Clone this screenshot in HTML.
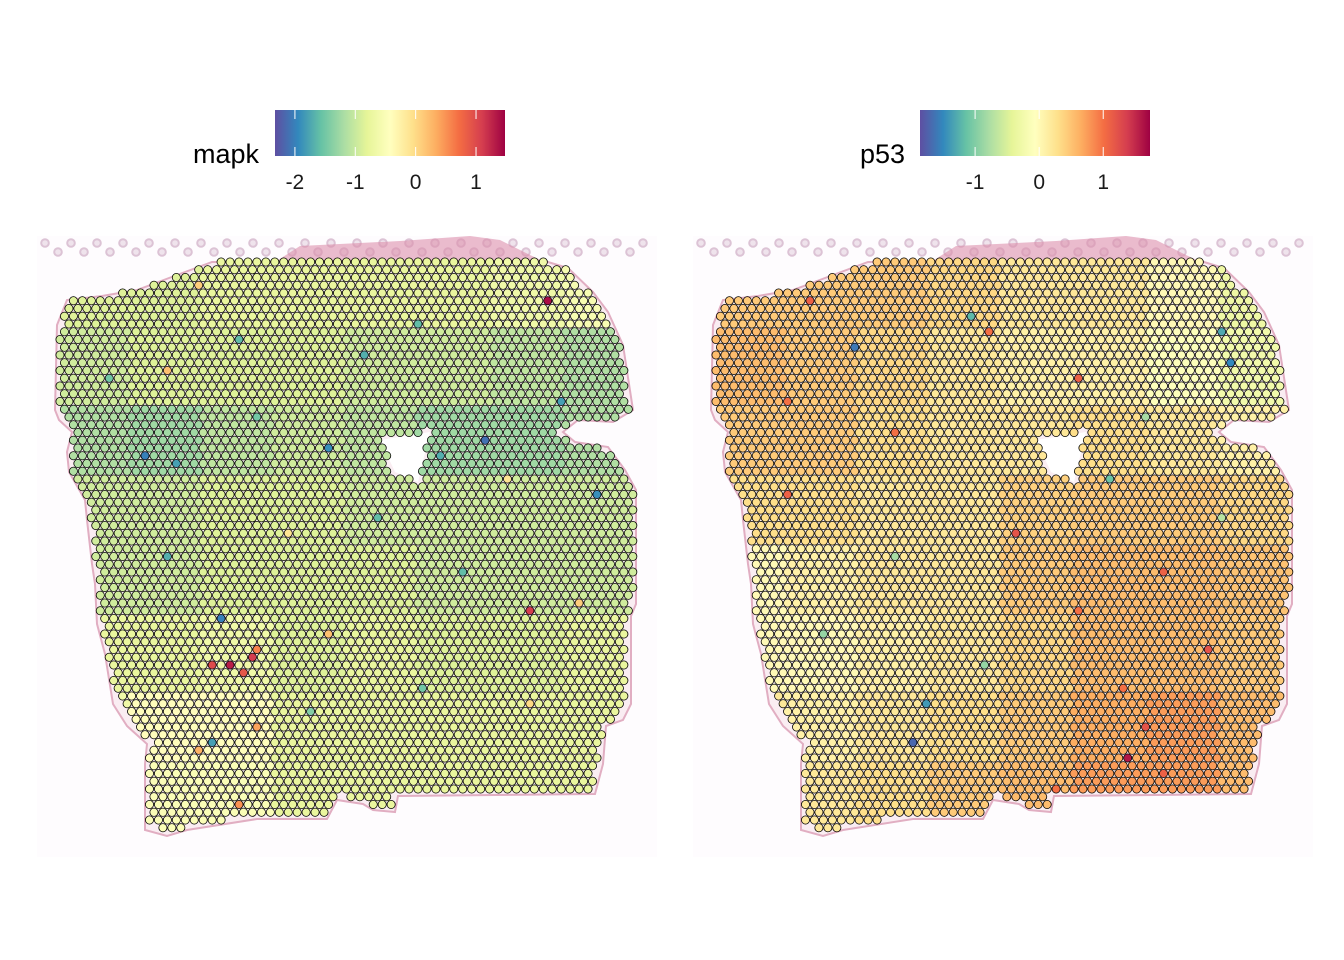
<!DOCTYPE html>
<html><head><meta charset="utf-8"><title>mapk / p53 spatial</title>
<style>
html,body{margin:0;padding:0;background:#fff;}
svg{display:block;font-family:"Liberation Sans",Arial,sans-serif;}
</style></head>
<body>
<svg id="chart" width="1344" height="960" viewBox="0 0 1344 960">
<defs>
<linearGradient id="spec" x1="0" x2="1" y1="0" y2="0">
<stop offset="0" stop-color="#5E4FA2"/><stop offset="0.1" stop-color="#3288BD"/><stop offset="0.2" stop-color="#66C2A5"/><stop offset="0.3" stop-color="#ABDDA4"/><stop offset="0.4" stop-color="#E6F598"/><stop offset="0.5" stop-color="#FFFFBF"/><stop offset="0.6" stop-color="#FEE08B"/><stop offset="0.7" stop-color="#FDAE61"/><stop offset="0.8" stop-color="#F46D43"/><stop offset="0.9" stop-color="#D53E4F"/><stop offset="1" stop-color="#9E0142"/>
</linearGradient>
</defs>
<g id="panels"></g>
</svg>
<script>
// ---- data ----
const panelNames = ["mapk", "p53"];
const domainMapk = [-2.33, 1.48];
const domainP53 = [-1.86, 1.73];
const ticksMapk = [-2, -1, 0, 1];
const ticksP53 = [-1, 0, 1];
// coarse 8x8 region means (rows top->bottom)
const gridMapk = [
 [-0.85,-0.85,-0.75,-0.75,-0.75,-0.75,-0.65,-0.55],
 [-0.95,-0.85,-0.85,-0.85,-0.95,-0.95,-1.05,-1.15],
 [-1.15,-1.25,-1.05,-0.95,-1.05,-1.25,-1.25,-1.15],
 [-0.95,-0.95,-0.85,-0.85,-0.95,-0.95,-0.95,-0.95],
 [-0.95,-0.95,-0.85,-0.85,-0.85,-0.95,-0.95,-0.95],
 [-0.75,-0.75,-0.65,-0.85,-0.75,-0.85,-0.85,-0.75],
 [-0.65,-0.4,-0.4,-0.75,-0.75,-0.75,-0.75,-0.75],
 [-0.65,-0.5,-0.5,-0.75,-0.75,-0.75,-0.75,-0.75]
];
const gridP53 = [
 [0.45,0.45,0.45,0.35,0.2,0.2,0.0,-0.3],
 [0.55,0.45,0.35,0.2,0.1,0.1,-0.1,-0.25],
 [0.45,0.45,0.3,0.2,0.2,0.3,0.2,0.1],
 [0.3,0.3,0.2,0.2,0.4,0.45,0.45,0.35],
 [0.0,0.1,0.2,0.2,0.45,0.55,0.55,0.5],
 [0.0,0.0,0.1,0.2,0.35,0.55,0.55,0.45],
 [0.2,0.1,0.2,0.3,0.45,0.65,0.75,0.55],
 [0.2,0.2,0.3,0.45,0.55,0.75,0.75,0.55]
];
// notable individual spots [row, col, value]
const outMapk = [[52,19,1.3],[51,21,1.1],[52,17,1.0],[53,20,0.9],[50,22,0.6],[5,54,1.4],[25,9,-2.0],[26,13,-1.8],[24,30,-1.9],[23,47,-2.1],[25,42,-1.7],[46,18,-2.0],[62,17,-1.8],[45,52,1.1],[30,60,-1.9],[12,34,-1.7],
 [10,20,-1.6],[15,5,-1.5],[8,40,-1.6],[18,56,-1.8],[20,22,-1.5],[33,35,-1.6],[38,12,-1.7],[40,45,-1.6],[55,40,-1.5],[58,28,-1.4],[35,25,-0.1],[28,50,-0.1],[48,30,0.2],[60,22,0.4],[63,15,0.3],[70,20,0.5],[14,12,0.2],[3,15,0.1],[44,58,0.1],[57,52,0.0]];
const outP53 = [[11,15,-1.6],[13,57,-1.5],[9,56,-1.3],[60,6,-1.8],[57,23,-1.4],[62,22,-1.7],[64,46,1.6],[60,48,1.2],[7,28,-1.2],[28,44,-1.1],[40,50,1.1],
 [5,10,1.1],[9,30,1.0],[15,40,1.1],[22,20,1.0],[30,8,1.1],[35,33,1.2],[45,40,1.0],[50,55,1.2],[55,45,1.0],[66,50,1.1],[68,38,1.0],[20,48,-0.8],[38,20,-0.8],[48,12,-0.9],[52,30,-0.9],[33,56,-0.7],[18,8,1.0]];

// ---- geometry ----
const tissue = [[60,325],[70,300],[105,296],[140,290],[180,275],[215,262],[545,262],[565,268],[590,292],[605,312],[620,345],[630,410],[610,422],[575,420],[560,432],[572,442],[605,447],[622,470],[633,490],[633,600],[628,612],[628,700],[620,716],[603,722],[600,760],[592,790],[395,792],[392,808],[370,806],[360,800],[340,796],[330,815],[260,815],[190,826],[170,832],[148,826],[148,760],[150,740],[130,722],[116,700],[108,650],[100,620],[98,580],[95,560],[90,520],[88,500],[72,472],[70,452],[75,432],[62,420],[58,410]];
const hole = [[380,440],[430,432],[418,482],[395,472]];
const colors = ["#5E4FA2","#3288BD","#66C2A5","#ABDDA4","#E6F598","#FFFFBF","#FEE08B","#FDAE61","#F46D43","#D53E4F","#9E0142"];

function inside(p, poly){let x=p[0],y=p[1],c=false;for(let i=0,j=poly.length-1;i<poly.length;j=i++){const xi=poly[i][0],yi=poly[i][1],xj=poly[j][0],yj=poly[j][1];if(((yi>y)!=(yj>y))&&(x<(xj-xi)*(y-yi)/(yj-yi)+xi))c=!c;}return c;}
function hex(h){return [parseInt(h.slice(1,3),16),parseInt(h.slice(3,5),16),parseInt(h.slice(5,7),16)];}
function colorScale(v, dom){let t=(v-dom[0])/(dom[1]-dom[0]);t=Math.max(0,Math.min(1,t));const s=t*10,i=Math.min(9,Math.floor(s)),f=s-i;const a=hex(colors[i]),b=hex(colors[i+1]);return "rgb("+a.map((x,k)=>Math.round(x+(b[k]-x)*f)).join(",")+")";}
const NS="http://www.w3.org/2000/svg";
function mk(tag, attrs, parent){const e=document.createElementNS(NS,tag);for(const k in attrs)e.setAttribute(k,attrs[k]);parent.appendChild(e);return e;}

const root=document.getElementById("panels");
const panels=[{dx:0,grid:gridMapk,dom:domainMapk,ticks:ticksMapk,outs:outMapk,name:"mapk",bar:[275,505],label:[259]},
              {dx:656,grid:gridP53,dom:domainP53,ticks:ticksP53,outs:outP53,name:"p53",bar:[920,1150],label:[905]}];
panels.forEach((P,pi)=>{
  const g=mk("g",{},root);
  
  
  const bg=mk("g",{transform:"translate("+P.dx+",0)"},g);
  
  
  mk("rect",{x:37,y:236,width:620,height:621,fill:"#fefcfe"},bg);
  for(let k=0;k<24;k++){for(let rr=0;rr<2;rr++){const cx=45+k*26+rr*13, cy=243+rr*9;if(cx<655)mk("circle",{cx:cx,cy:cy,r:3.8,fill:"#ecdde8",stroke:"#d4b6cb","stroke-width":2,opacity:0.8},bg);}}
  mk("path",{d:"M275,262 L300,246 L400,241 L470,236 L500,240 L530,255 L545,262 Z",fill:"#dc8fab",opacity:0.6},bg);
  mk("polygon",{points:tissue.map(p=>[p[0]+(p[0]>340?3:-3),p[1]+(p[1]>550?4:0)].join(",")).join(" "),fill:"#f6dbe5",stroke:"#c0507a","stroke-width":2,opacity:0.45},bg);
  mk("polygon",{points:hole.map(p=>p.join(",")).join(" "),fill:"#fff"},bg);
  const sg=mk("g",{},g);
  
  
  const outMap={};P.outs.forEach(o=>outMap[o[0]+"_"+o[1]]=o[2]);
  for(let r=0;r<76;r++){for(let c=0;c<66;c++){
    const x=60+c*8.95+(r%2)*4.475, y=262+r*7.75;
    if(!inside([x,y],tissue)||inside([x,y],hole))continue;
    const gc=Math.max(0,Math.min(7,Math.floor((x-55)/72.5))), gr=Math.max(0,Math.min(7,Math.floor((y-258)/72)));
    let v=P.grid[gr][gc];
    if(outMap[r+"_"+c]!==undefined)v=outMap[r+"_"+c];
    const s=mk("circle",{cx:(x+P.dx).toFixed(2),cy:y.toFixed(2),r:4.1,fill:colorScale(v,P.dom),stroke:"#000","stroke-width":0.8},sg);
    
    
  }}
  const lg=mk("g",{},g);
  
  
  const b0=P.bar[0],b1=P.bar[1];
  const br=mk("rect",{x:b0,y:110,width:b1-b0,height:46,fill:"url(#spec)"},lg);
  
  
  const t=mk("text",{x:P.label[0],y:163,"font-size":27,"text-anchor":"end",fill:"#000"},lg);
  t.textContent=P.name;
  
  
  P.ticks.forEach(tv=>{
    const tx=b0+(tv-P.dom[0])/(P.dom[1]-P.dom[0])*(b1-b0);
    mk("line",{x1:tx,x2:tx,y1:110,y2:119,stroke:"#fff","stroke-width":1},lg);
    mk("line",{x1:tx,x2:tx,y1:147,y2:156,stroke:"#fff","stroke-width":1},lg);
    const tl=mk("text",{x:tx,y:189,"font-size":21,"text-anchor":"middle",fill:"#1a1a1a"},lg);
    tl.textContent=String(tv);
    
    
  });
});
</script>
</body></html>
